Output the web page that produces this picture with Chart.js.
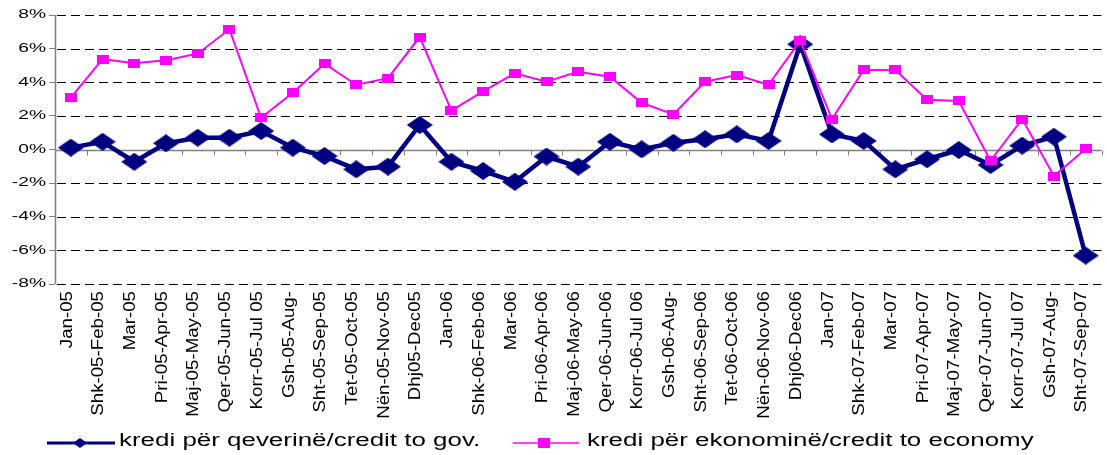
<!DOCTYPE html>
<html><head><meta charset="utf-8">
<script src="https://cdn.jsdelivr.net/npm/chart.js@4.4.1/dist/chart.umd.min.js"></script>
<style>html,body{margin:0;padding:0;background:#fff;overflow:hidden;width:1107px;height:455px}</style>
</head><body>
<canvas id="c" width="1112" height="455" style="display:block;width:1112px;height:455px"></canvas>
<script>
const categories = ['Jan-05','Shk-05-Feb-05','Mar-05','Pri-05-Apr-05','Maj-05-May-05','Qer-05-Jun-05','Korr-05-Jul 05','Gsh-05-Aug-','Sht-05-Sep-05','Tet-05-Oct-05','Nën-05-Nov-05','Dhj05-Dec05',
  'Jan-06','Shk-06-Feb-06','Mar-06','Pri-06-Apr-06','Maj-06-May-06','Qer-06-Jun-06','Korr-06-Jul 06','Gsh-06-Aug-','Sht-06-Sep-06','Tet-06-Oct-06','Nën-06-Nov-06','Dhj06-Dec06',
  'Jan-07','Shk-07-Feb-07','Mar-07','Pri-07-Apr-07','Maj-07-May-07','Qer-07-Jun-07','Korr-07-Jul 07','Gsh-07-Aug-','Sht-07-Sep-07'];
const creditGov = [0.11,0.46,-0.73,0.37,0.70,0.70,1.10,0.11,-0.39,-1.18,-1.02,1.46,
  -0.73,-1.28,-1.92,-0.42,-1.02,0.46,0.01,0.40,0.61,0.90,0.51,6.26,
  0.90,0.51,-1.18,-0.58,-0.03,-0.92,0.23,0.76,-6.31];
const creditEconomy = [3.08,5.38,5.13,5.31,5.70,7.15,1.89,3.38,5.10,3.85,4.24,6.69,
  2.31,3.46,4.53,4.03,4.63,4.33,2.78,2.09,4.03,4.43,3.85,6.47,
  1.81,4.73,4.73,2.96,2.89,-0.67,1.81,-1.58,0.03];
const yTickValues = [-8,-6,-4,-2,0,2,4,6,8];
const yTickLabels = yTickValues.map(v => v + '%');
const seriesLabels = ['kredi për qeverinë/credit to gov.','kredi për ekonominë/credit to economy'];

const NAVY = '#000080', PINK = '#FF00FF';
const FONT = '"Liberation Sans", Arial, sans-serif';

function makeDiamond(w, h, color) {
  const c = document.createElement('canvas'); c.width = w; c.height = h;
  const g = c.getContext('2d'); g.fillStyle = color; g.beginPath();
  g.moveTo(w/2, 0); g.lineTo(w, h/2); g.lineTo(w/2, h); g.lineTo(0, h/2); g.closePath(); g.fill();
  return c;
}
function makeRect(w, h, color) {
  const c = document.createElement('canvas'); c.width = w; c.height = h;
  const g = c.getContext('2d'); g.fillStyle = color; g.fillRect(0, 0, w, h);
  return c;
}
const diamondImg = makeDiamond(26, 18, NAVY);
const rectImg = makeRect(12, 9, PINK);

const decor = {
  id: 'decor',
  beforeDatasetsDraw(chart) {
    const {ctx, chartArea: ca, scales: {x, y}} = chart;
    ctx.save();
    // dashed horizontal gridlines (drawn as explicit dash segments)
    ctx.fillStyle = '#000';
    yTickValues.forEach(v => {
      if (v === 0) return;
      const gy = Math.round(y.getPixelForValue(v));
      for (let gx = ca.left + 2; gx < ca.right; gx += 14) {
        ctx.fillRect(Math.round(gx), gy, Math.min(9, ca.right - gx), 1);
      }
    });
    const y0 = Math.round(y.getPixelForValue(0)) + 0.5;
    const half = (x.getPixelForValue(1) - x.getPixelForValue(0)) / 2;
    // zero (category) axis line
    ctx.strokeStyle = '#808080'; ctx.lineWidth = 1.5;
    ctx.beginPath(); ctx.moveTo(ca.left, y0); ctx.lineTo(ca.right, y0); ctx.stroke();
    // value axis line
    const ax = Math.round(ca.left) + 0.5;
    ctx.beginPath(); ctx.moveTo(ax, ca.top); ctx.lineTo(ax, ca.bottom); ctx.stroke();
    ctx.lineWidth = 1;
    for (let i = 0; i <= categories.length; i++) {
      const bx = Math.round(x.getPixelForValue(i) - half) + 0.5;
      ctx.beginPath(); ctx.moveTo(bx, y0); ctx.lineTo(bx, y0 + 5); ctx.stroke();
    }
    ctx.restore();
  },
  afterDraw(chart) {
    const {ctx, scales: {x, y}} = chart;
    ctx.save();
    ctx.fillStyle = '#000';
    // y labels
    ctx.font = '12px ' + FONT;
    ctx.textAlign = 'right'; ctx.textBaseline = 'middle';
    yTickValues.forEach((v, i) => {
      const py = y.getPixelForValue(v);
      ctx.save(); ctx.translate(46, py); ctx.scale(1.6, 1);
      ctx.fillText(yTickLabels[i], 0, 0); ctx.restore();
    });
    // x labels
    ctx.font = '17px ' + FONT;
    categories.forEach((lab, i) => {
      const px = x.getPixelForValue(i);
      ctx.save(); ctx.translate(px - 4, 291); ctx.rotate(-Math.PI / 2); ctx.scale(1.1, 1);
      ctx.textAlign = 'right'; ctx.textBaseline = 'middle';
      ctx.fillText(lab, 0, 0); ctx.restore();
    });
    // legend
    const ly = 443;
    ctx.lineCap = 'butt';
    ctx.strokeStyle = NAVY; ctx.lineWidth = 3;
    ctx.beginPath(); ctx.moveTo(47, ly); ctx.lineTo(115, ly); ctx.stroke();
    ctx.drawImage(makeDiamond(14, 10, NAVY), 80 - 7, ly - 5);
    ctx.strokeStyle = PINK; ctx.lineWidth = 1.5;
    ctx.beginPath(); ctx.moveTo(513, ly); ctx.lineTo(579, ly); ctx.stroke();
    ctx.fillStyle = PINK; ctx.fillRect(544 - 6, ly - 5, 12, 10);
    ctx.fillStyle = '#000';
    ctx.font = '18px ' + FONT; ctx.textAlign = 'left'; ctx.textBaseline = 'middle';
    [[119, seriesLabels[0]], [587, seriesLabels[1]]].forEach(([lx, t]) => {
      ctx.save(); ctx.translate(lx, ly - 1.5); ctx.scale(1.44, 1);
      ctx.fillText(t, 0, 0); ctx.restore();
    });
    ctx.restore();
  }
};

new Chart(document.getElementById('c'), {
  type: 'line',
  data: {
    labels: categories,
    datasets: [
      { label: seriesLabels[0], data: creditGov, borderColor: NAVY, backgroundColor: NAVY,
        borderWidth: 4.5, pointStyle: diamondImg, pointRadius: 6, tension: 0, order: 1 },
      { label: seriesLabels[1], data: creditEconomy, borderColor: PINK, backgroundColor: PINK,
        borderWidth: 2, pointStyle: rectImg, pointRadius: 6, tension: 0, order: 0 }
    ]
  },
  options: {
    responsive: false,
    animation: false,
    devicePixelRatio: 1,
    layout: { padding: { top: 15, right: 3, left: 0, bottom: 0 } },
    plugins: { legend: { display: false }, tooltip: { enabled: false } },
    scales: {
      x: {
        offset: true,
        grid: { display: false },
        border: { display: false },
        ticks: { display: false },
        afterFit(s) { s.height = 171; }
      },
      y: {
        min: -8, max: 8,
        ticks: { display: false, stepSize: 2 },
        grid: {
          drawOnChartArea: false,
          drawTicks: true, tickLength: 6, tickColor: '#808080', tickWidth: 1
        },
        border: { display: false },
        afterFit(s) { s.width = 55; }
      }
    }
  },
  plugins: [decor]
});
</script>
</body></html>
